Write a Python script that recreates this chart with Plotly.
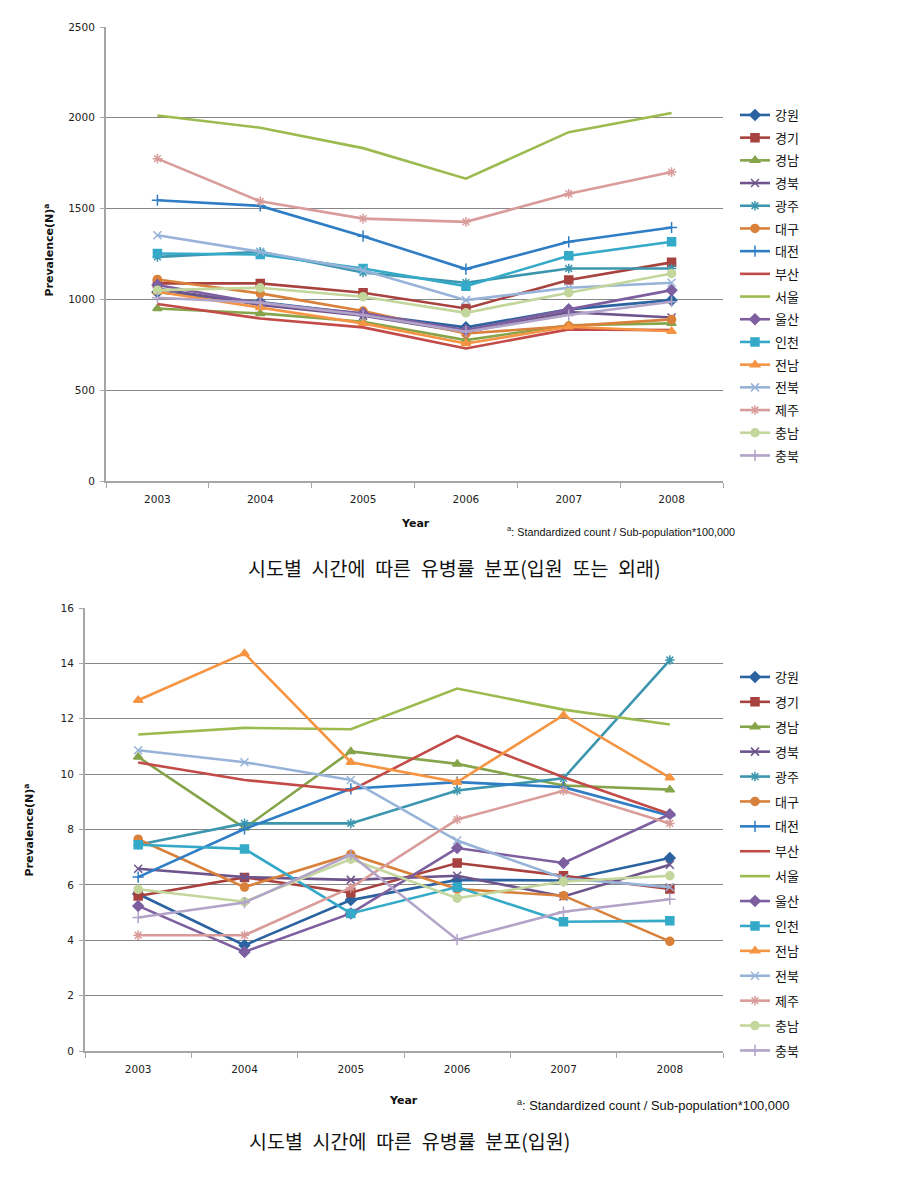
import plotly.graph_objects as go

years = ["2003", "2004", "2005", "2006", "2007", "2008"]
regions = ["강원", "경기", "경남", "경북", "광주", "대구", "대전", "부산",
           "서울", "울산", "인천", "전남", "전북", "제주", "충남", "충북"]

# Prevalence (inpatient or outpatient)
total_강원 = [1040, 985, 920, 846, 945, 996]
total_경기 = [1088, 1088, 1037, 950, 1107, 1204]
total_경남 = [950, 923, 877, 776, 858, 868]
total_경북 = [1060, 970, 910, 820, 930, 900]
total_광주 = [1234, 1262, 1148, 1092, 1170, 1170]
total_대구 = [1110, 1033, 936, 812, 853, 890]
total_대전 = [1546, 1515, 1348, 1167, 1317, 1396]
total_부산 = [975, 895, 846, 730, 835, 831]
total_서울 = [2013, 1945, 1833, 1665, 1921, 2026]
total_울산 = [1079, 978, 923, 831, 945, 1051]
total_인천 = [1253, 1247, 1170, 1073, 1240, 1317]
total_전남 = [1042, 956, 868, 757, 849, 825]
total_전북 = [1353, 1262, 1161, 996, 1064, 1092]
total_제주 = [1775, 1540, 1445, 1427, 1582, 1701]
total_충남 = [1051, 1064, 1015, 926, 1037, 1143]
total_충북 = [1009, 982, 914, 822, 914, 987]

# Prevalence (inpatient)
inpat_강원 = [5.67, 3.82, 5.45, 6.18, 6.16, 6.97]
inpat_경기 = [5.60, 6.27, 5.72, 6.79, 6.33, 5.85]
inpat_경남 = [10.62, 8.05, 10.82, 10.37, 9.59, 9.44]
inpat_경북 = [6.58, 6.28, 6.18, 6.33, 5.58, 6.73]
inpat_광주 = [7.45, 8.22, 8.22, 9.41, 9.85, 14.12]
inpat_대구 = [7.65, 5.92, 7.10, 5.85, 5.61, 3.96]
inpat_대전 = [6.28, 8.02, 9.47, 9.71, 9.53, 8.50]
inpat_부산 = [10.42, 9.79, 9.41, 11.38, 9.89, 8.56]
inpat_서울 = [11.43, 11.67, 11.62, 13.09, 12.33, 11.79]
inpat_울산 = [5.24, 3.58, 4.97, 7.33, 6.79, 8.55]
inpat_인천 = [7.45, 7.30, 4.97, 5.92, 4.67, 4.70]
inpat_전남 = [12.67, 14.36, 10.43, 9.71, 12.13, 9.87]
inpat_전북 = [10.86, 10.43, 9.79, 7.60, 6.24, 5.92]
inpat_제주 = [4.18, 4.18, 5.90, 8.36, 9.40, 8.22]
inpat_충남 = [5.84, 5.39, 6.93, 5.52, 6.12, 6.33]
inpat_충북 = [4.82, 5.36, 7.09, 4.02, 5.03, 5.48]

total = [total_강원, total_경기, total_경남, total_경북, total_광주, total_대구,
         total_대전, total_부산, total_서울, total_울산, total_인천, total_전남,
         total_전북, total_제주, total_충남, total_충북]
inpat = [inpat_강원, inpat_경기, inpat_경남, inpat_경북, inpat_광주, inpat_대구,
         inpat_대전, inpat_부산, inpat_서울, inpat_울산, inpat_인천, inpat_전남,
         inpat_전북, inpat_제주, inpat_충남, inpat_충북]

colors = ["#2A63A0", "#A8423F", "#86A44A", "#6E548D", "#3C96AE", "#D9803A",
          "#2F7DC5", "#C24B48", "#9BBB4F", "#7D5FA0", "#34AAC8", "#F59443",
          "#97B3D8", "#D99C9A", "#C3D69B", "#B2A3C8"]
symbols = ["diamond", "square", "triangle-up", "x-thin-open", "asterisk-open",
           "circle", "cross-thin-open", None, None, "diamond", "square",
           "triangle-up", "x-thin-open", "asterisk-open", "circle", "cross-thin-open"]

W, H = 907, 1177
def px(x): return x / W
def py(y): return 1 - y / H

fig = go.Figure()

for k, (data, xa, ya, lg) in enumerate([(total, "x", "y", "legend"),
                                          (inpat, "x2", "y2", "legend2")]):
    for i, name in enumerate(regions):
        sym = symbols[i]
        mode = "lines+markers" if sym else "lines"
        marker = dict(symbol=sym or "circle", size=8, color=colors[i],
                      line=dict(width=1.5, color=colors[i]))
        fig.add_trace(go.Scatter(
            x=years, y=data[i], name=name, mode=mode,
            line=dict(color=colors[i], width=2.6),
            marker=marker, xaxis=xa, yaxis=ya, legend=lg,
            legendgroup=f"{lg}_{i}", showlegend=True))

tickfont = dict(family="DejaVu Sans", size=10.5, color="#222222")
axcol = "#A6A6A6"
gridcol = "#868686"

common_x = dict(type="category", range=[-0.5, 5.5], autorange=False,
                tickson="boundaries", ticks="outside",
                ticklen=5, tickcolor=axcol, showline=True, linecolor=axcol,
                linewidth=2, showgrid=False, tickfont=tickfont,
                ticklabelstandoff=7, fixedrange=True, automargin=False)
common_y = dict(ticks="outside", ticklen=4, tickcolor=axcol, showline=True,
                linecolor=axcol, linewidth=2, showgrid=True, gridcolor=gridcol,
                gridwidth=1, zeroline=False, tickfont=tickfont, fixedrange=True,
                ticklabelstandoff=3, automargin=False, autorange=False)

legend_common = dict(font=dict(family="Noto Sans CJK KR", size=13, color="#111111"),
                     traceorder="grouped", bgcolor="rgba(0,0,0,0)",
                     xanchor="left", yanchor="top", itemwidth=30, borderwidth=0)

fig.update_layout(
    width=W, height=H, autosize=False, margin=dict(l=0, r=0, t=0, b=0, pad=0),
    paper_bgcolor="white", plot_bgcolor="white",
    xaxis=dict(domain=[px(106), px(723)], anchor="y", **common_x),
    yaxis=dict(domain=[py(481), py(27)], anchor="x", range=[0, 2500],
               dtick=500, **common_y),
    xaxis2=dict(domain=[px(85), px(723)], anchor="y2", **common_x),
    yaxis2=dict(domain=[py(1051), py(608)], anchor="x2", range=[0, 16],
                dtick=2, **common_y),
    legend=dict(x=px(735), y=py(100), tracegroupgap=2.8, **legend_common),
    legend2=dict(x=px(735), y=py(662), tracegroupgap=5, **legend_common),
    showlegend=True,
)

sp = "\u2002"
ann_font_b = dict(family="DejaVu Sans", size=11, color="#111111")
annotations = [
    dict(text="<b>Prevalence(N)<sup>a</sup></b>", x=px(39), y=py(250),
         textangle=-90, font=ann_font_b),
    dict(text="<b>Year</b>", x=px(415), y=py(524), font=ann_font_b),
    dict(text="<sup>a</sup>: Standardized count / Sub-population*100,000",
         x=px(505), y=py(531), xanchor="left",
         font=dict(family="Liberation Sans", size=10.8, color="#111111")),
    dict(text=sp.join("시도별 시간에 따른 유병률 분포(입원 또는 외래)".split(" ")),
         x=px(455), y=py(568),
         font=dict(family="Noto Sans CJK KR", size=19.5, color="#111111")),
    dict(text="<b>Prevalence(N)<sup>a</sup></b>", x=px(19), y=py(830),
         textangle=-90, font=ann_font_b),
    dict(text="<b>Year</b>", x=px(403), y=py(1100), font=ann_font_b),
    dict(text="<sup>a</sup>: Standardized count / Sub-population*100,000",
         x=px(515), y=py(1105), xanchor="left",
         font=dict(family="Liberation Sans", size=12.9, color="#111111")),
    dict(text=sp.join("시도별 시간에 따른 유병률 분포(입원)".split(" ")),
         x=px(409), y=py(1140),
         font=dict(family="Noto Sans CJK KR", size=19.5, color="#111111")),
]
for a in annotations:
    a.update(xref="paper", yref="paper", showarrow=False, yanchor="middle")
fig.update_layout(annotations=annotations)

fig.write_html("out.html")
